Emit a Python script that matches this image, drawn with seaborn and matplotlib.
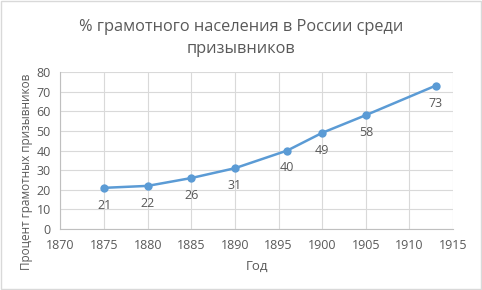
import matplotlib
matplotlib.use("Agg")
import matplotlib.pyplot as plt
import seaborn as sns
import pandas as pd

years = [1875, 1880, 1885, 1890, 1896, 1900, 1905, 1913]
literacy = [21, 22, 26, 31, 40, 49, 58, 73]
title = "% грамотного населения в России среди\nпризывников"
xlabel = "Год"
ylabel = "Процент грамотных призывников"

sns.set_theme(style="white")
plt.rcParams['font.family'] = ['Open Sans', 'DejaVu Sans']
txt = "#595959"
blue = "#5b9bd5"

df = pd.DataFrame({"year": years, "value": literacy})

fig = plt.figure(figsize=(4.82, 2.90), dpi=100)
fig.patch.set_facecolor("white")
ax = fig.add_axes([0.1255, 0.21, 0.8145, 0.542])

sns.lineplot(data=df, x="year", y="value", ax=ax, color=blue, linewidth=1.8,
             marker="o", markersize=6, markeredgewidth=0, zorder=3)

for x, y in zip(years, literacy):
    ax.annotate(str(y), (x, y), xytext=(0, -12.5), textcoords="offset points",
                ha="center", va="center", fontsize=9, color=txt)

ax.set_xlim(1870, 1915)
ax.set_ylim(0, 80)
ax.set_xticks(range(1870, 1916, 5))
ax.set_yticks(range(0, 81, 10))
ax.grid(True, color="#d9d9d9", linewidth=0.8)
ax.set_axisbelow(True)
for s in ["top", "right"]:
    ax.spines[s].set_visible(False)
for s in ["left", "bottom"]:
    ax.spines[s].set_color("#bfbfbf")
    ax.spines[s].set_linewidth(0.8)
ax.tick_params(axis="both", labelsize=9, colors=txt, length=0, pad=7)
ax.set_xlabel(xlabel, fontsize=9.5, color=txt, labelpad=6)
ax.set_ylabel("")
fig.text(27 / 482, 1 - 172 / 290, ylabel, rotation=90, ha="center", va="center",
         fontsize=8.5, color=txt)
fig.text(0.5, 0.87, title, ha="center", va="center", fontsize=11.8, color=txt,
         linespacing=1.5)

border = plt.Rectangle((0.002, 0.003), 0.995, 0.994, transform=fig.transFigure,
                       fill=False, edgecolor="#d9d9d9", linewidth=1)
fig.patches.append(border)

fig.savefig("out.png", dpi=100, facecolor="white")
